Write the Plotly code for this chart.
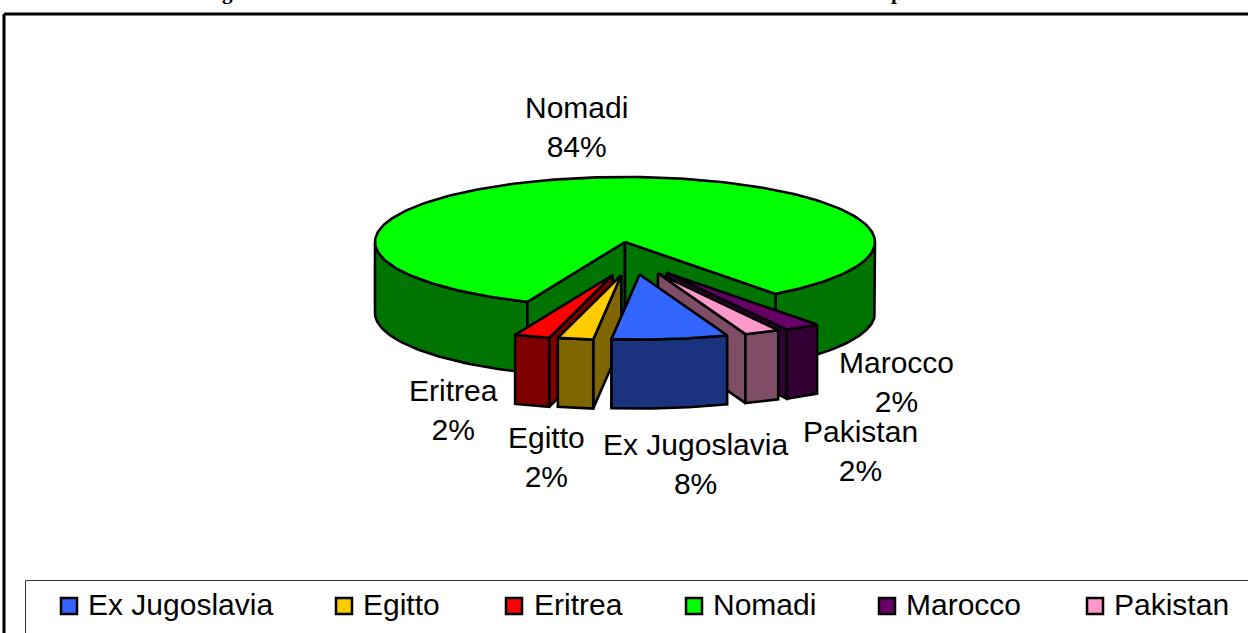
import numpy as np
import plotly.graph_objects as go

# ---- chart data ----
categories = ["Ex Jugoslavia", "Egitto", "Eritrea", "Nomadi", "Marocco", "Pakistan"]
values = [7.5, 2.3, 2.3, 83.5, 2.3, 2.3]
pct_labels = ["8%", "2%", "2%", "84%", "2%", "2%"]
top_colors = ["#3366FF", "#FFCC00", "#FF0000", "#00FF00", "#660066", "#FF99CC"]
side_colors = ["#1A337F", "#806600", "#800000", "#007400", "#330033", "#804D66"]

# ---- layout constants (pixels) ----
W, H = 1248, 633
CX, CY, RX, RY = 625, 242, 250, 65
START_DEG = 20.5
BODY_DEPTH, SLICE_DEPTH = 71, 69
FONT = "Liberation Sans"
FS = 30
LABEL_POS = {"Ex Jugoslavia": (695, 464), "Egitto": (546, 457), "Eritrea": (453, 410),
             "Nomadi": (576, 127), "Marocco": (896, 382), "Pakistan": (860, 451)}
KEY_X = [69, 344, 514, 694, 887, 1095]
KEY_TEXT_X = [86, 361, 532, 711, 904, 1112]
KEY_Y = 606


def pt(theta_deg, ox=0.0, oy=0.0):
    t = np.radians(theta_deg)
    return ox + RX * np.sin(t), oy + RY * np.cos(t)


def arc(a, b, ox, oy, n=90):
    return pt(np.linspace(a, b, n), ox, oy)


def poly(xs, ys, fill, name):
    return go.Scatter(x=list(xs), y=list(ys), mode="lines", fill="toself", fillcolor=fill,
                      line=dict(color="black", width=2.6), hoverinfo="skip",
                      showlegend=False, name=name)


total = sum(values)
spans = [v / total * 360 for v in values]
bounds = {}
a = START_DEG
for c, s in zip(categories, spans):
    bounds[c] = (a, a - s)
    a -= s
    if a < -180:
        a += 360

fig = go.Figure()

# ---- the big slice: walls first, then the top face ----
i_big = categories.index("Nomadi")
b_l = bounds["Nomadi"][0]          # left cut
b_r = bounds["Nomadi"][1] + 360    # right cut
side, top = side_colors[i_big], top_colors[i_big]
for a0, a1 in [(-90, b_l), (b_r, 90)]:
    x0, y0 = arc(a0, a1, CX, CY)
    x1, y1 = arc(a1, a0, CX, CY + BODY_DEPTH)
    fig.add_trace(poly(np.r_[x0, x1, x0[0]], np.r_[y0, y1, y0[0]], side, "Nomadi wall"))
for cut in (b_l, b_r):
    px, py = pt(cut, CX, CY)
    fig.add_trace(poly([CX, px, px, CX, CX],
                       [CY, py, py + BODY_DEPTH, CY + BODY_DEPTH, CY], side, "Nomadi inner wall"))
x0, y0 = arc(b_l, b_r - 360, CX, CY, 240)
fig.add_trace(poly(np.r_[CX, x0, CX], np.r_[CY, y0, CY], top, "Nomadi"))

# ---- exploded slices, outermost first ----
def mid(c):
    return sum(bounds[c]) / 2

for c in sorted([k for k in categories if k != "Nomadi"], key=lambda k: -abs(mid(k))):
    i = categories.index(c)
    a0, a1 = bounds[c]
    m = mid(c)
    ax = CX + 7.3 + 1.04 * m
    ay = CY + 33 - 0.07 * max(m, 0)
    # the one radial wall that faces the viewer
    e = a1 if m > 0 else a0
    px, py = pt(e, ax, ay)
    fig.add_trace(poly([ax, px, px, ax, ax],
                       [ay, py, py + SLICE_DEPTH, ay + SLICE_DEPTH, ay],
                       side_colors[i], c + " wall"))
    # front wall
    x0, y0 = arc(a0, a1, ax, ay, 30)
    x1, y1 = arc(a1, a0, ax, ay + SLICE_DEPTH, 30)
    fig.add_trace(poly(np.r_[x0, x1, x0[0]], np.r_[y0, y1, y0[0]], side_colors[i], c + " front"))
    # top face
    fig.add_trace(poly(np.r_[ax, x0, ax], np.r_[ay, y0, ay], top_colors[i], c))

# ---- legend keys ----
fig.add_trace(go.Scatter(x=KEY_X, y=[KEY_Y] * 6, mode="markers", hoverinfo="skip", showlegend=False,
                         marker=dict(symbol="square", size=16, color=top_colors,
                                     line=dict(color="black", width=2.5)), name="legend keys"))

ann = []
for c, p in zip(categories, pct_labels):
    lx, ly = LABEL_POS[c]
    ann.append(dict(x=lx, y=ly, text=f"{c}<br>{p}", showarrow=False, xanchor="center", yanchor="middle",
                    font=dict(family=FONT, size=FS, color="black")))
for c, x in zip(categories, KEY_TEXT_X):
    ann.append(dict(x=x, y=KEY_Y - 2, text=c, showarrow=False, xanchor="left", yanchor="middle",
                    font=dict(family=FONT, size=FS, color="black")))
# descenders of the cut-off title at the very top of the picture
for ch, x in (("g", 227), ("p", 897)):
    ann.append(dict(x=x, y=6, text=ch, showarrow=False, xanchor="center", yanchor="bottom",
                    font=dict(family="Liberation Serif", size=21, color="black", weight="bold")))

shapes = [
    dict(type="line", x0=4, x1=1260, y0=14, y1=14, line=dict(color="black", width=3), layer="below"),
    dict(type="line", x0=4, x1=4, y0=14, y1=640, line=dict(color="black", width=3), layer="below"),
    dict(type="rect", x0=25.5, x1=1260, y0=580.5, y1=640, line=dict(color="#333333", width=1), layer="below"),
]

fig.update_layout(
    width=W, height=H, margin=dict(l=0, r=0, t=0, b=0), paper_bgcolor="white", plot_bgcolor="white",
    xaxis=dict(range=[0, W], visible=False, fixedrange=True),
    yaxis=dict(range=[H, 0], visible=False, fixedrange=True),
    annotations=ann, shapes=shapes, showlegend=False,
)
fig.write_html("out.html", config={"displayModeBar": False},
               post_script="document.body.style.margin='0';document.body.style.overflow='hidden';")
